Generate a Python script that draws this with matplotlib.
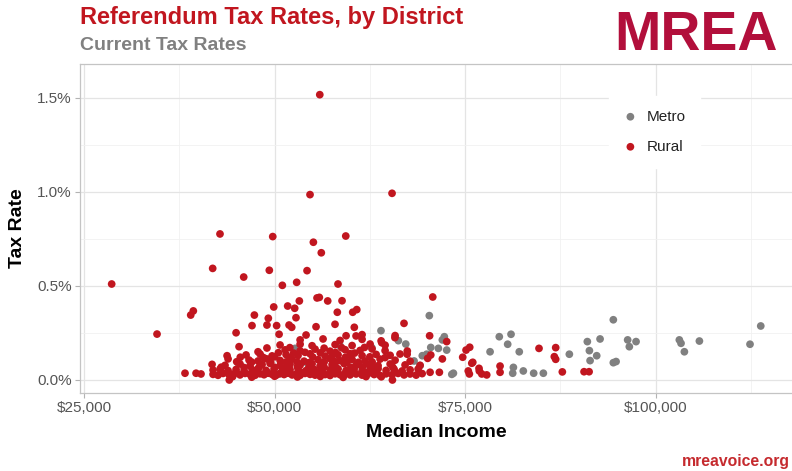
import matplotlib
matplotlib.use("Agg")
import matplotlib.pyplot as plt
from matplotlib.ticker import FuncFormatter, FixedLocator

plt.rcParams['font.family'] = ['Liberation Sans', 'DejaVu Sans']

# ---------------- data (income in $1000s, tax rate in %) ----------------
rural_income = [
    # ~0.03% band
    38.25, 39.70, 40.35, 41.93, 42.58, 43.24, 44.03, 44.68, 45.47, 46.13, 46.78, 47.44, 48.10, 48.62, 49.15,
    49.67, 50.20, 50.72, 51.25, 51.77, 52.30, 52.82, 53.35, 54.00, 54.66, 55.31, 55.97, 56.63, 57.28, 57.94,
    58.59, 59.25, 59.91, 60.69, 61.48, 62.27, 63.06, 63.84, 64.63, 65.42, 66.21, 66.99, 67.78, 68.57, 69.36,
    # ~0.05% band
    41.93, 42.85, 43.90, 44.95, 46.00, 47.05, 47.83, 48.88, 49.93, 50.98, 52.03, 53.08, 54.13, 55.18, 56.23,
    57.28, 58.33, 59.38, 60.43, 61.48, 62.53, 63.58, 64.63, 65.68, 66.73, 67.78, 68.83,
    # ~0.08% band
    41.80, 43.50, 45.47, 46.78, 48.36, 49.41, 50.72, 52.03, 53.35, 54.92, 55.97, 57.54, 59.12, 60.69, 62.27,
    63.58, 65.16, 67.12, 69.09,
    # ~0.11% band
    43.90, 46.65, 47.83, 48.88, 50.72, 52.30, 53.87, 55.71, 57.28, 58.59, 60.17, 61.87, 63.84, 65.81, 67.78,
    # ~0.13% band
    43.77, 46.26, 48.10, 49.67, 51.51, 53.08, 54.66, 56.63, 58.33, 59.91, 61.48, 63.32, 65.16, 67.39,
    # ~0.16% band
    47.83, 51.38, 53.35, 55.31, 57.28, 59.25, 61.22, 62.79, 64.50,
    # ~0.19% band
    45.34, 50.72, 53.35, 54.92, 57.94, 60.17, 62.53, 64.50,
    # ~0.21% band
    53.35, 56.36, 58.59, 61.48, 63.98,
    # ~0.24% band
    44.95, 50.59, 54.13, 59.38, 60.69, 61.48, 65.81,
    # extra points filling the dense cluster
    44.50, 47.00, 50.00, 53.00, 56.00, 59.00, 62.00, 64.00,
    43.00, 45.00, 47.60, 49.00, 51.50, 53.70, 55.60, 57.60, 59.60, 61.80, 63.30,
    43.00, 46.00, 48.00, 50.00, 51.50, 53.00, 54.50, 56.50, 58.00, 60.00, 61.50, 63.00, 65.50,
    47.00, 49.50, 51.50, 53.00, 54.50, 56.50, 58.00, 59.50, 61.00, 62.80,
    45.50, 48.50, 50.00, 52.00, 55.00, 57.50, 59.30, 62.50, 64.50,
    50.50, 52.50, 54.00, 56.00, 58.00, 60.50,
    49.00, 52.00, 56.50, 58.80, 61.80,
    # sparse upper points
    55.93, 54.65, 65.41, 42.84, 49.76, 55.09, 59.34, 56.13, 41.88, 45.95, 49.31, 54.26, 51.02, 52.90, 58.32,
    70.75, 28.63, 34.58, 39.34, 39.00, 47.35, 49.18, 49.89, 51.72, 52.64, 52.81, 53.25, 55.57, 55.87, 56.97,
    58.85, 58.23, 60.25, 60.78, 47.04, 49.00, 50.27, 51.90, 52.25, 55.44, 57.93, 60.46, 45.03, 44.06,
    # right side
    66.98, 65.79, 64.06, 70.34, 72.58, 70.49, 67.41, 66.46, 70.08, 72.01, 75.60, 75.12, 74.68, 75.87, 75.41,
    75.55, 76.86, 77.18, 77.83, 70.40, 71.62, 65.46, 84.69, 86.88, 86.70, 86.88, 87.75, 90.60, 91.26, 79.58,
    79.58, 76.82, 76.00,
]
rural_rate = [
    0.036, 0.036, 0.032, 0.030, 0.025, 0.035, 0.028, 0.033, 0.027, 0.035, 0.030, 0.025, 0.033, 0.028, 0.036,
    0.030, 0.025, 0.034, 0.029, 0.036, 0.027, 0.032, 0.025, 0.035, 0.030, 0.026, 0.034, 0.029, 0.024, 0.033,
    0.028, 0.035, 0.027, 0.032, 0.026, 0.034, 0.029, 0.024, 0.033, 0.028, 0.035, 0.027, 0.032, 0.026, 0.034,
    0.053, 0.058, 0.050, 0.056, 0.049, 0.055, 0.060, 0.051, 0.057, 0.048, 0.055, 0.061, 0.050, 0.056, 0.047,
    0.054, 0.059, 0.050, 0.056, 0.049, 0.055, 0.060, 0.051, 0.057, 0.048, 0.054, 0.058,
    0.083, 0.078, 0.085, 0.076, 0.082, 0.088, 0.077, 0.084, 0.079, 0.086, 0.075, 0.082, 0.087, 0.078, 0.083,
    0.076, 0.085, 0.080, 0.078,
    0.112, 0.106, 0.101, 0.113, 0.104, 0.110, 0.100, 0.108, 0.114, 0.103, 0.109, 0.101, 0.111, 0.105, 0.100,
    0.129, 0.133, 0.138, 0.128, 0.135, 0.130, 0.139, 0.127, 0.134, 0.140, 0.129, 0.136, 0.131, 0.137,
    0.150, 0.160, 0.155, 0.164, 0.153, 0.161, 0.157, 0.165, 0.156,
    0.177, 0.186, 0.190, 0.182, 0.188, 0.183, 0.191, 0.185,
    0.213, 0.218, 0.210, 0.216, 0.208,
    0.251, 0.243, 0.239, 0.235, 0.234, 0.241, 0.236,
    0.018, 0.015, 0.020, 0.016, 0.019, 0.014, 0.018, 0.017,
    0.042, 0.040, 0.044, 0.041, 0.043, 0.039, 0.042, 0.044, 0.040, 0.043, 0.041,
    0.068, 0.066, 0.070, 0.067, 0.069, 0.071, 0.066, 0.068, 0.070, 0.067, 0.069, 0.066, 0.068,
    0.095, 0.093, 0.096, 0.094, 0.092, 0.095, 0.097, 0.093, 0.094, 0.096,
    0.121, 0.120, 0.123, 0.119, 0.122, 0.120, 0.121, 0.123, 0.119,
    0.145, 0.143, 0.147, 0.144, 0.146, 0.143,
    0.170, 0.172, 0.169, 0.171, 0.173,
    1.516, 0.985, 0.992, 0.776, 0.762, 0.732, 0.765, 0.676, 0.593, 0.547, 0.583, 0.581, 0.503, 0.519, 0.510,
    0.441, 0.510, 0.244, 0.367, 0.345, 0.345, 0.328, 0.388, 0.393, 0.381, 0.331, 0.420, 0.436, 0.439, 0.420,
    0.421, 0.360, 0.360, 0.374, 0.289, 0.292, 0.289, 0.292, 0.280, 0.283, 0.296, 0.280, 0.097, 0.000,
    0.301, 0.225, 0.198, 0.235, 0.204, 0.133, 0.154, 0.138, 0.115, 0.112, 0.174, 0.159, 0.121, 0.089, 0.048,
    0.032, 0.048, 0.032, 0.027, 0.041, 0.041, 0.000, 0.168, 0.172, 0.124, 0.110, 0.043, 0.044, 0.044, 0.074,
    0.041, 0.062, 0.094,
]

metro_income = [
    45.25, 49.23, 52.68, 54.30, 50.58, 58.59, 62.75, 63.96, 70.30, 66.24, 67.21, 72.27, 72.01, 70.49, 71.49,
    72.58, 69.95, 69.38, 68.30, 69.08, 73.46, 73.25, 78.27, 79.48, 81.02, 80.58, 82.10, 88.67, 81.33, 81.24,
    82.63, 83.99, 85.26, 91.03, 92.70, 91.30, 92.26, 91.39, 94.44, 94.44, 94.80, 96.32, 96.54, 97.42, 103.10,
    103.32, 103.76, 105.73, 112.37, 113.78,
]
metro_rate = [
    0.089, 0.110, 0.168, 0.089, 0.032, 0.182, 0.172, 0.262, 0.342, 0.209, 0.191, 0.230, 0.213, 0.173, 0.168,
    0.159, 0.137, 0.129, 0.101, 0.076, 0.036, 0.030, 0.150, 0.230, 0.243, 0.190, 0.150, 0.137, 0.067, 0.036,
    0.048, 0.036, 0.036, 0.204, 0.218, 0.156, 0.129, 0.103, 0.320, 0.092, 0.098, 0.213, 0.177, 0.204, 0.213,
    0.195, 0.150, 0.207, 0.190, 0.287,
]

x_ticks = [25000, 50000, 75000, 100000]
y_ticks = [0.0, 0.5, 1.0, 1.5]

RED = '#C1161F'
GRAY = '#808080'

# ---------------- figure ----------------
fig = plt.figure(figsize=(7.92, 4.71), dpi=100)
ax = fig.add_axes([80 / 792, 78 / 471, 713 / 792, 329 / 471])

ax.scatter([v * 1000 for v in metro_income], metro_rate, s=31, color=GRAY,
           edgecolors='none', zorder=3, label='Metro')
ax.scatter([v * 1000 for v in rural_income], rural_rate, s=31, color=RED,
           edgecolors='none', zorder=3, label='Rural')

ax.set_xlim(24475, 118010)
ax.set_ylim(-0.0691, 1.679)

ax.xaxis.set_major_locator(FixedLocator(x_ticks))
ax.xaxis.set_minor_locator(FixedLocator([37500, 62500, 87500, 112500]))
ax.yaxis.set_major_locator(FixedLocator(y_ticks))
ax.yaxis.set_minor_locator(FixedLocator([0.25, 0.75, 1.25]))
ax.xaxis.set_major_formatter(FuncFormatter(lambda v, p: '${:,.0f}'.format(v)))
ax.yaxis.set_major_formatter(FuncFormatter(lambda v, p: '{:.1f}%'.format(v)))

ax.set_axisbelow(True)
ax.grid(which='major', color='#e4e4e4', linewidth=0.9)
ax.grid(which='minor', color='#f1f1f1', linewidth=0.6)
for sp in ax.spines.values():
    sp.set_color('#c4c4c4')
    sp.set_linewidth(0.9)

ax.tick_params(which='major', length=3.5, width=0.8, color='#b3b3b3',
               labelcolor='#555555', labelsize=11, pad=2.5)
ax.tick_params(which='minor', length=0)

ax.set_xlabel('Median Income', fontsize=14, fontweight='bold', color='black', labelpad=6)
ax.set_ylabel('Tax Rate', fontsize=14, fontweight='bold', color='black', labelpad=8)

leg = ax.legend(loc='upper left', bbox_to_anchor=(609 / 792, 1 - 96 / 471),
                bbox_transform=fig.transFigure, frameon=True, fontsize=11,
                handlelength=1.0, handletextpad=0.6, labelspacing=1.05,
                borderpad=0.9, borderaxespad=0, markerscale=1.0)
leg.get_frame().set_facecolor('white')
leg.get_frame().set_edgecolor('white')
leg.get_frame().set_alpha(1)
leg.get_frame().set_boxstyle('square', pad=0)
for t in leg.get_texts():
    t.set_color('#222222')

# ---------------- titles & branding ----------------
fig.text(80 / 792, 1 - 24 / 471, 'Referendum Tax Rates, by District', fontsize=17,
         fontweight='bold', color=RED, va='baseline', ha='left')
fig.text(80 / 792, 1 - 50 / 471, 'Current Tax Rates', fontsize=14,
         fontweight='bold', color='#808080', va='baseline', ha='left')
fig.text(778 / 792, 1 - 50 / 471, 'MREA', fontsize=40, fontweight='bold',
         color='#B20F3B', va='baseline', ha='right')
fig.text(790 / 792, 1 - 466 / 471, 'mreavoice.org', fontsize=11.3, fontweight='bold',
         color='#C52A2E', va='baseline', ha='right')

fig.savefig('out.png', dpi=100)
